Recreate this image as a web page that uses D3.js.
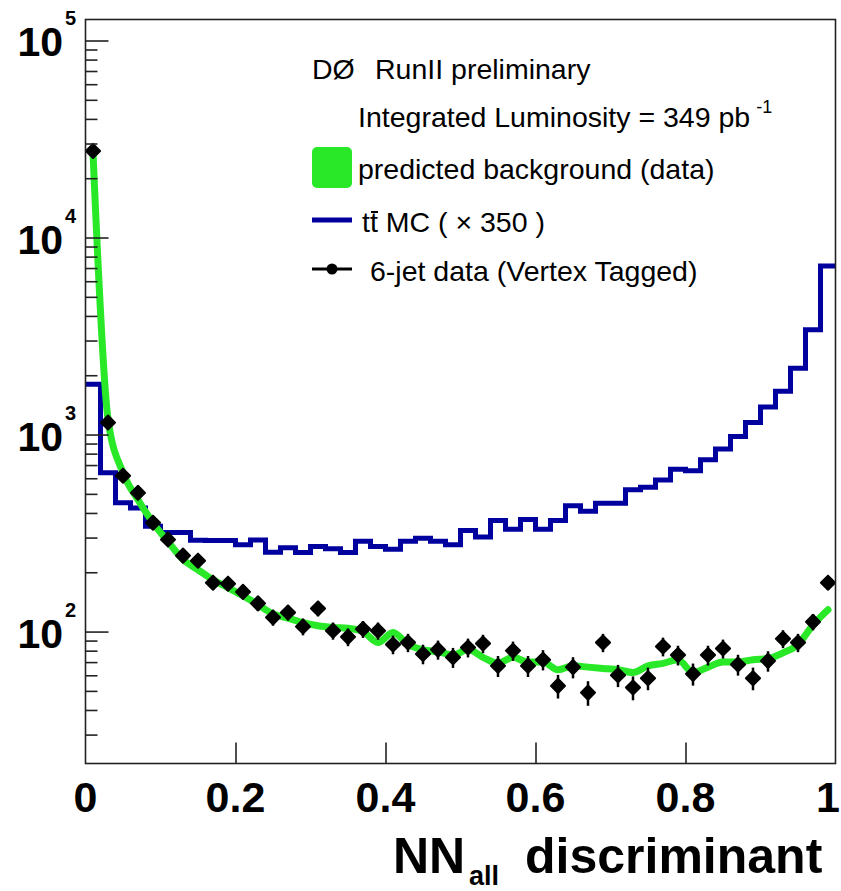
<!DOCTYPE html>
<html>
<head>
<meta charset="utf-8">
<script src="https://cdn.jsdelivr.net/npm/d3@7"></script>
<style>
  body { margin: 0; background: #fff; }
  svg { display: block; }
  text { font-family: "Liberation Sans", Arial, Helvetica, sans-serif; fill: #000; }
</style>
</head>
<body>
<svg id="chart" width="841" height="891"></svg>
<script>
// Histogram binning of the NN output: 50 bins on [0, 1]
const binLow = 0;
const binHigh = 1;
const nBins = 50;

// 6-jet data (vertex tagged), events per bin
const dataCounts = [
  27500, 1150, 618, 506, 357, 293, 243, 229, 177, 175,
  159, 139, 118, 125, 106, 131, 101, 94, 103, 101,
  86, 88, 77, 81, 74, 83, 87, 67, 80, 67,
  72, 53, 66, 49, 88, 60, 52, 58, 84, 76,
  61, 76, 82, 68, 58, 71, 92, 88, 112, 177
];

// predicted background from data, per bin
const background = [
  27000, 1200, 640, 467, 357, 286, 232, 206, 183, 167,
  152, 137, 123, 117, 111, 107, 105, 104, 100, 88,
  99, 86, 81, 79, 76, 81, 74, 69, 74, 70,
  70, 64, 67, 66, 65, 64, 62, 67, 69, 72,
  62, 66, 70, 70, 72, 73, 78, 86, 108, 129
];

// ttbar Monte Carlo scaled by 350, per bin
const ttbarMC = [
  1800, 640, 450, 424, 342, 318, 318, 291, 290, 290,
  276, 292, 253, 266, 252, 270, 263, 252, 287, 270,
  262, 287, 298, 287, 276, 326, 302, 366, 331, 370,
  331, 366, 435, 408, 448, 448, 525, 540, 588, 667,
  655, 744, 844, 977, 1150, 1380, 1660, 2170, 3400, 7160
];

const xTickValues = [0, 0.2, 0.4, 0.6, 0.8, 1];
const xTickLabels = ["0", "0.2", "0.4", "0.6", "0.8", "1"];
const yDecades = [2, 3, 4, 5];

const colors = { data: "#000", background: "#28e828", ttbar: "#00009e", frame: "#222" };

const svg = d3.select("#chart");
const plot = { left: 85.5, right: 835.5, top: 19.5, bottom: 763.5 };

const binWidth = (binHigh - binLow) / nBins;
const binCenters = d3.range(nBins).map(i => binLow + (i + 0.5) * binWidth);

const x = d3.scaleLinear().domain([binLow, binHigh]).range([plot.left, plot.right]);
const y = d3.scaleLog().domain([21.4, 127800]).range([plot.bottom, plot.top]);

const g = svg.append("g");
const clipId = "plot-clip";
svg.append("defs").append("clipPath").attr("id", clipId)
  .append("rect")
  .attr("x", plot.left).attr("y", plot.top)
  .attr("width", plot.right - plot.left).attr("height", plot.bottom - plot.top);

// ttbar MC as a step histogram
const histPoints = [];
ttbarMC.forEach((v, i) => {
  const lo = binLow + i * binWidth;
  histPoints.push([lo, v], [lo + binWidth, v]);
});
g.append("path")
  .attr("clip-path", `url(#${clipId})`)
  .attr("d", d3.line().x(d => x(d[0])).y(d => y(d[1]))(histPoints))
  .attr("fill", "none")
  .attr("stroke", colors.ttbar)
  .attr("stroke-width", 5)
  .attr("stroke-linejoin", "miter");

// predicted background as a smooth thick curve
g.append("path")
  .attr("d", d3.line().curve(d3.curveMonotoneX)
    .x((d, i) => x(binCenters[i])).y(d => y(d))(background))
  .attr("fill", "none")
  .attr("stroke", colors.background)
  .attr("stroke-width", 7)
  .attr("stroke-linejoin", "round")
  .attr("stroke-linecap", "round");

// data points with Poisson error bars
const pts = g.append("g");
dataCounts.forEach((n, i) => {
  const cx = x(binCenters[i]);
  const err = Math.sqrt(n);
  pts.append("line")
    .attr("x1", cx).attr("x2", cx)
    .attr("y1", y(n + err)).attr("y2", y(Math.max(n - err, 1)))
    .attr("stroke", colors.data).attr("stroke-width", 2.5);
});
pts.selectAll("path.marker")
  .data(dataCounts)
  .join("path")
  .attr("class", "marker")
  .attr("d", d3.symbol(d3.symbolSquare, 100))
  .attr("transform", (d, i) => `translate(${x(binCenters[i])},${y(d)}) rotate(45)`)
  .attr("fill", colors.data)
  .attr("stroke", colors.data)
  .attr("stroke-width", 2)
  .attr("stroke-linejoin", "round");

// frame
svg.append("rect")
  .attr("x", plot.left).attr("y", plot.top)
  .attr("width", plot.right - plot.left).attr("height", plot.bottom - plot.top)
  .attr("fill", "none").attr("stroke", colors.frame).attr("stroke-width", 1.6);

// y axis: major and minor ticks pointing into the plot
const yMajor = yDecades.map(e => Math.pow(10, e));
const yMinor = [];
[1, 2, 3, 4, 5].forEach(e => {
  for (let k = 2; k <= 9; k++) {
    const v = k * Math.pow(10, e);
    if (v >= y.domain()[0] && v <= y.domain()[1]) yMinor.push(v);
  }
});
const yAxisMajor = svg.append("g").attr("transform", `translate(${plot.left},0)`)
  .call(d3.axisRight(y).tickValues(yMajor).tickSize(23).tickFormat(""));
const yAxisMinor = svg.append("g").attr("transform", `translate(${plot.left},0)`)
  .call(d3.axisRight(y).tickValues(yMinor).tickSize(12).tickFormat(""));
[yAxisMajor, yAxisMinor].forEach(a => {
  a.select(".domain").remove();
  a.selectAll("line").attr("stroke", colors.frame).attr("stroke-width", 1.6);
});

// y labels as 10^n
yDecades.forEach(e => {
  const ty = y(Math.pow(10, e));
  svg.append("text")
    .attr("x", 63).attr("y", ty + 16)
    .attr("text-anchor", "end")
    .attr("font-size", 41).attr("font-weight", "bold")
    .text("10");
  svg.append("text")
    .attr("x", 65).attr("y", ty - 15)
    .attr("font-size", 20).attr("font-weight", "bold")
    .text(e);
});

// x axis: major ticks pointing up
const xAxis = svg.append("g").attr("transform", `translate(0,${plot.bottom})`)
  .call(d3.axisTop(x).tickValues(xTickValues.slice(1, -1)).tickSize(21).tickFormat(""));
xAxis.select(".domain").remove();
xAxis.selectAll("line").attr("stroke", colors.frame).attr("stroke-width", 1.6);

xTickValues.forEach((v, i) => {
  const last = i === xTickValues.length - 1;
  svg.append("text")
    .attr("x", last ? 840 : x(v)).attr("y", 812)
    .attr("text-anchor", last ? "end" : "middle")
    .attr("font-size", 43).attr("font-weight", "bold")
    .text(xTickLabels[i]);
});

// x axis title
svg.append("text").attr("x", 393).attr("y", 873)
  .attr("font-size", 50).attr("font-weight", "bold").text("NN");
svg.append("text").attr("x", 469).attr("y", 885)
  .attr("font-size", 27).attr("font-weight", "bold").text("all");
svg.append("text").attr("x", 525).attr("y", 873)
  .attr("font-size", 50).attr("font-weight", "bold").text("discriminant");

// legend
const lg = svg.append("g").attr("font-size", 28.5);
lg.append("text").attr("x", 312).attr("y", 79).text("DØ");
lg.append("text").attr("x", 375).attr("y", 79).text("RunII preliminary");

const lumi = lg.append("text").attr("x", 358).attr("y", 127);
lumi.append("tspan").text("Integrated Luminosity = 349 pb");
lumi.append("tspan").attr("dx", 6).attr("dy", -14).attr("font-size", 18).text("-1");

lg.append("rect").attr("x", 312).attr("y", 147).attr("width", 40).attr("height", 41)
  .attr("rx", 5).attr("fill", colors.background);
lg.append("text").attr("x", 358).attr("y", 179).text("predicted background (data)");

lg.append("line").attr("x1", 312).attr("x2", 352).attr("y1", 220).attr("y2", 220)
  .attr("stroke", colors.ttbar).attr("stroke-width", 5);
lg.append("text").attr("x", 362).attr("y", 232).text("tt MC ( ×  350 )");
lg.append("line").attr("x1", 371).attr("x2", 378).attr("y1", 212).attr("y2", 212)
  .attr("stroke", "#000").attr("stroke-width", 2);

lg.append("line").attr("x1", 312).attr("x2", 352).attr("y1", 269).attr("y2", 269)
  .attr("stroke", colors.data).attr("stroke-width", 3);
lg.append("circle").attr("cx", 332).attr("cy", 269).attr("r", 5.5).attr("fill", colors.data);
lg.append("text").attr("x", 370).attr("y", 281).text("6-jet data (Vertex Tagged)");
</script>
</body>
</html>
